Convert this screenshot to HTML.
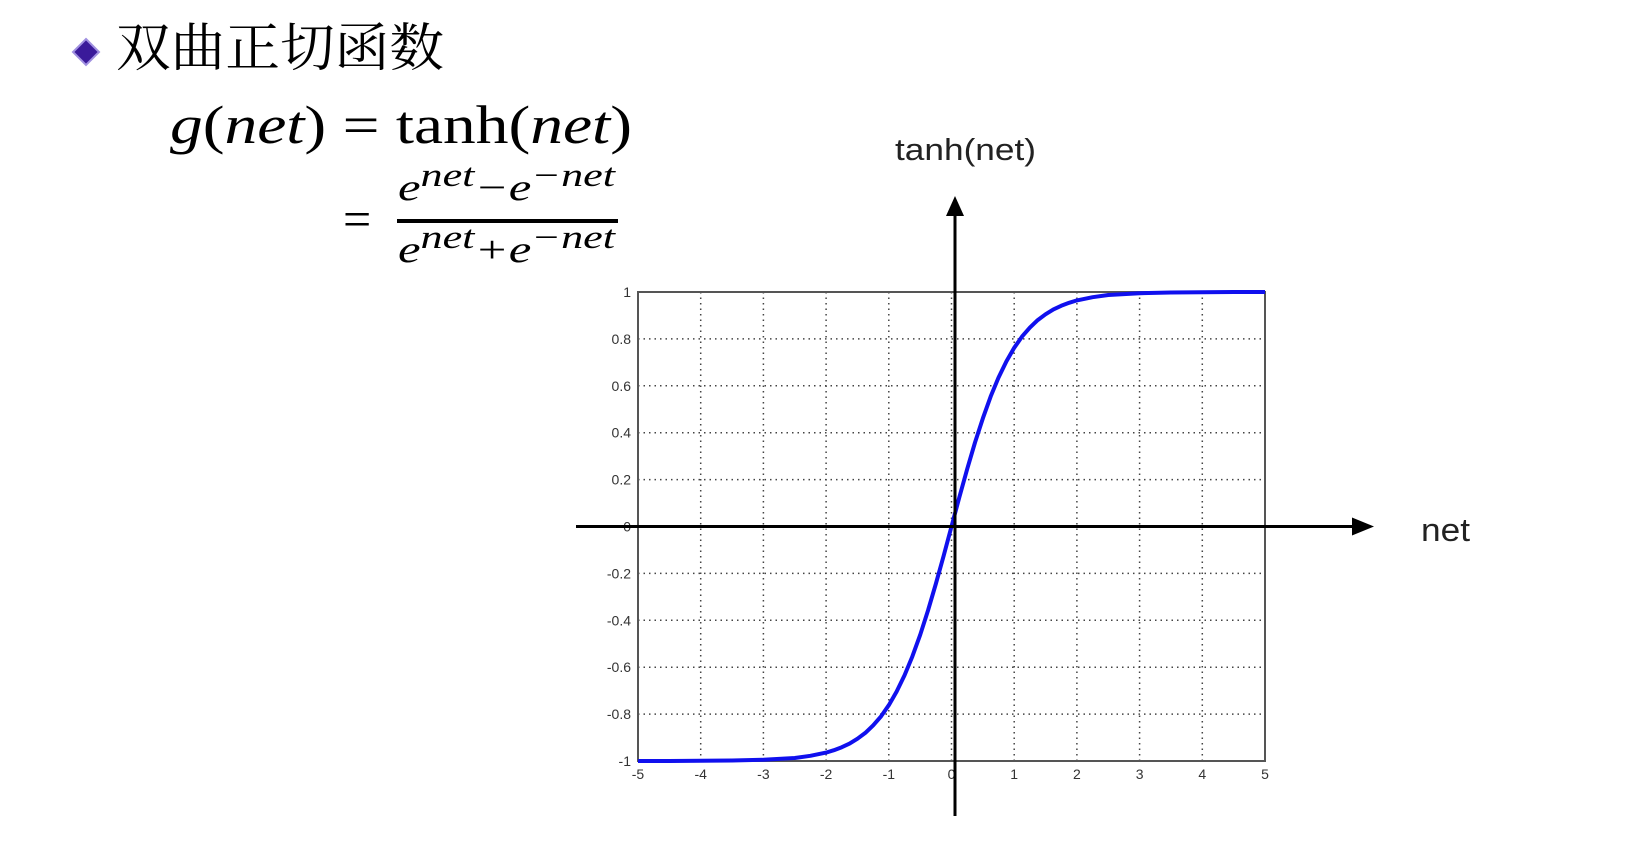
<!DOCTYPE html>
<html><head><meta charset="utf-8"><style>
body{margin:0;background:#fff;width:1632px;height:847px;overflow:hidden}
svg{display:block}
</style></head><body>
<svg id="c" width="1632" height="847" xmlns="http://www.w3.org/2000/svg">
<polygon points="86,39 99,52 86,65 73,52" fill="#3a1a9a" stroke="#a090e0" stroke-width="2"/>
<text x="116" y="66" textLength="328" lengthAdjust="spacingAndGlyphs" font-family="'Liberation Serif','Noto Serif CJK SC',serif" font-size="52" fill="#000">双曲正切函数</text>
<text x="170" y="143" textLength="462" lengthAdjust="spacingAndGlyphs" font-family="'Liberation Serif',serif" font-size="54" fill="#000"><tspan font-style="italic">g</tspan>(<tspan font-style="italic">net</tspan>) = tanh(<tspan font-style="italic">net</tspan>)</text>
<text x="343" y="236" font-family="'Liberation Serif',serif" font-size="50" fill="#000">=</text>
<text x="398" y="200" textLength="217" lengthAdjust="spacingAndGlyphs" font-family="'Liberation Serif',serif" font-size="38" font-style="italic" fill="#000">e<tspan dy="-14" font-size="33">net</tspan><tspan dy="14">−e</tspan><tspan dy="-14" font-size="33">−net</tspan></text>
<rect x="397" y="219" width="221" height="4" fill="#000"/>
<text x="398" y="262" textLength="217" lengthAdjust="spacingAndGlyphs" font-family="'Liberation Serif',serif" font-size="38" font-style="italic" fill="#000">e<tspan dy="-14" font-size="33">net</tspan><tspan dy="14">+e</tspan><tspan dy="-14" font-size="33">−net</tspan></text>
<g id="plot"></g>
<text x="895" y="160" textLength="141" lengthAdjust="spacingAndGlyphs" font-family="'Liberation Sans',sans-serif" font-size="31" fill="#222">tanh(net)</text>
<text x="1421" y="541" textLength="49" lengthAdjust="spacingAndGlyphs" font-family="'Liberation Sans',sans-serif" font-size="32" fill="#222">net</text>
</svg>
<script>
const xTicks=[-5,-4,-3,-2,-1,0,1,2,3,4,5];
const yTicks=[-1,-0.8,-0.6,-0.4,-0.2,0,0.2,0.4,0.6,0.8,1];
const xTickLabels=['-5','-4','-3','-2','-1','0','1','2','3','4','5'];
const yTickLabels=['-1','-0.8','-0.6','-0.4','-0.2','0','0.2','0.4','0.6','0.8','1'];
const netVals=[-5,-4.5,-4,-3.5,-3,-2.5,-2.25,-2,-1.875,-1.75,-1.625,-1.5,-1.375,-1.25,-1.125,-1,-0.875,-0.75,-0.625,-0.5,-0.375,-0.25,-0.125,0,0.125,0.25,0.375,0.5,0.625,0.75,0.875,1,1.125,1.25,1.375,1.5,1.625,1.75,1.875,2,2.25,2.5,3,3.5,4,4.5,5];
const tanhVals=[-1,-1,-0.999,-0.998,-0.995,-0.987,-0.978,-0.964,-0.954,-0.941,-0.926,-0.905,-0.880,-0.848,-0.810,-0.762,-0.704,-0.635,-0.555,-0.462,-0.358,-0.245,-0.124,0,0.124,0.245,0.358,0.462,0.555,0.635,0.704,0.762,0.810,0.848,0.880,0.905,0.926,0.941,0.954,0.964,0.978,0.987,0.995,0.998,0.999,1,1];
const L=638,R=1265,T=292,B=761;
const sx=v=>L+(v+5)/10*(R-L);
const sy=v=>B-(v+1)/2*(B-T);
const NS='http://www.w3.org/2000/svg';
const g=document.getElementById('plot');
function mk(t,a){const e=document.createElementNS(NS,t);for(const k in a)e.setAttribute(k,a[k]);g.appendChild(e);return e;}
xTicks.forEach((v,i)=>{
 if(i>0&&i<xTicks.length-1){const l=mk('line',{x1:sx(v),x2:sx(v),y1:T,y2:B,stroke:'#444','stroke-width':1.5,'stroke-dasharray':'1.5 4'});
 
 }
 const t=mk('text',{x:sx(v),y:B+18,'text-anchor':'middle','font-family':'Liberation Sans,sans-serif','font-size':14,fill:'#333'});
 t.textContent=xTickLabels[i];
 
 
});
yTicks.forEach((v,i)=>{
 if(i>0&&i<yTicks.length-1){const l=mk('line',{x1:L,x2:R,y1:sy(v),y2:sy(v),stroke:'#444','stroke-width':1.5,'stroke-dasharray':'1.5 4'});
 
 }
 const t=mk('text',{x:L-7,y:sy(v)+5,'text-anchor':'end','font-family':'Liberation Sans,sans-serif','font-size':14,fill:'#333'});
 t.textContent=yTickLabels[i];
 
 
});
const fr=mk('rect',{x:L,y:T,width:R-L,height:B-T,fill:'none',stroke:'#555','stroke-width':2});


let d='';netVals.forEach((v,i)=>{d+=(i?'L':'M')+sx(v).toFixed(1)+','+sy(tanhVals[i]).toFixed(1);});
const p=mk('path',{d:d,fill:'none',stroke:'#1010ee','stroke-width':4,'stroke-linejoin':'round'});


const ax0=955;
const ha=mk('line',{x1:576,x2:1355,y1:sy(0),y2:sy(0),stroke:'#000','stroke-width':3});


const hh=mk('polygon',{points:`1374,${sy(0)} 1352,${sy(0)-9} 1352,${sy(0)+9}`,fill:'#000'});


const va=mk('line',{x1:ax0,x2:ax0,y1:212,y2:816,stroke:'#000','stroke-width':3});


const vh=mk('polygon',{points:`${ax0},196 ${ax0-9},216 ${ax0+9},216`,fill:'#000'});


</script>
</body></html>
